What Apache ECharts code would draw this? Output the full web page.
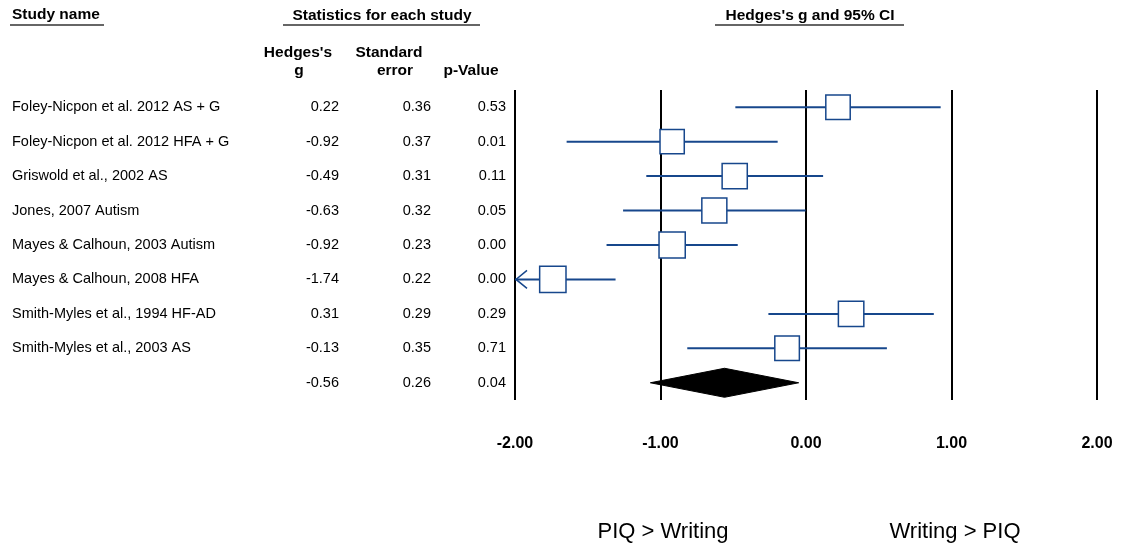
<!DOCTYPE html>
<html><head><meta charset="utf-8">
<script src="https://cdn.jsdelivr.net/npm/echarts@6/dist/echarts.min.js"></script>
<style>html,body{margin:0;padding:0;background:#fff}#c{width:1121px;height:548px}</style>
</head><body><div id="c"></div>
<script>
// ---- data ----
const studyNames = [
  'Foley-Nicpon et al. 2012 AS + G',
  'Foley-Nicpon et al. 2012 HFA + G',
  'Griswold et al., 2002 AS',
  'Jones, 2007 Autism',
  'Mayes & Calhoun, 2003 Autism',
  'Mayes & Calhoun, 2008 HFA',
  'Smith-Myles et al., 1994 HF-AD',
  'Smith-Myles et al., 2003 AS'
];
const hedgesG = [0.22, -0.92, -0.49, -0.63, -0.92, -1.74, 0.31, -0.13];
const stdErr  = [0.36, 0.37, 0.31, 0.32, 0.23, 0.22, 0.29, 0.35];
const pValues = [0.53, 0.01, 0.11, 0.05, 0.00, 0.00, 0.29, 0.71];
const summaryG = -0.56;
const summarySE = 0.26;
const summaryP = 0.04;
const xTicks = [-2, -1, 0, 1, 2];
const tau2 = 0.445; // between-study variance estimate (random-effects weights)

// ---- derived tables ----
const fmt = v => v.toFixed(2);
const rowNames = studyNames.concat(['']);
const rowG = hedgesG.map(fmt).concat([fmt(summaryG)]);
const rowSE = stdErr.map(fmt).concat([fmt(summarySE)]);
const rowP = pValues.map(fmt).concat([fmt(summaryP)]);
const rowIdx = rowNames.map((_, i) => i);

const forestData = hedgesG.map((g, i) => [g, i, g - 1.96 * stdErr[i], g + 1.96 * stdErr[i], stdErr[i], 0]);
forestData.push([summaryG, studyNames.length, summaryG - 1.96 * summarySE, summaryG + 1.96 * summarySE, summarySE, 1]);

const FONT = "'Liberation Sans', Arial, sans-serif";
const BLUE = '#17478c';
const TOP = 90, H = 310;

function colAxis(idx, data, align) {
  return {
    type: 'category', gridIndex: idx, data: data, inverse: true,
    axisLine: {show: false}, axisTick: {show: false}, splitLine: {show: false},
    axisLabel: {interval: 0, align: align, margin: 0, fontSize: 14.5, color: '#000', fontFamily: FONT}
  };
}

const chart = echarts.init(document.getElementById('c'), null, {renderer: 'canvas'});
const option = {
  backgroundColor: '#fff',
  animation: false,
  grid: [
    {left: 515, right: 24, top: TOP, height: H},
    {left: 12, width: 1, top: TOP, height: H},
    {left: 339, width: 1, top: TOP, height: H},
    {left: 431, width: 1, top: TOP, height: H},
    {left: 506, width: 1, top: TOP, height: H}
  ],
  xAxis: [
    {
      type: 'value', gridIndex: 0, min: xTicks[0], max: xTicks[xTicks.length - 1], interval: 1,
      axisLine: {show: false}, axisTick: {show: false},
      splitLine: {show: true, lineStyle: {color: '#000', width: 2}},
      axisLabel: {formatter: v => fmt(v), fontSize: 16, fontWeight: 'bold', color: '#000', fontFamily: FONT, margin: 36}
    },
    {type: 'value', gridIndex: 1, show: false},
    {type: 'value', gridIndex: 2, show: false},
    {type: 'value', gridIndex: 3, show: false},
    {type: 'value', gridIndex: 4, show: false}
  ],
  yAxis: [
    {type: 'category', gridIndex: 0, data: rowIdx, inverse: true, show: false},
    colAxis(1, rowNames, 'left'),
    colAxis(2, rowG, 'right'),
    colAxis(3, rowSE, 'right'),
    colAxis(4, rowP, 'right')
  ],
  series: [{
    type: 'custom',
    xAxisIndex: 0, yAxisIndex: 0,
    clip: false,
    encode: {x: [0, 2, 3], y: 1},
    data: forestData,
    renderItem: function (params, api) {
      const g = api.value(0), i = api.value(1), lo = api.value(2), hi = api.value(3), se = api.value(4), isSum = api.value(5);
      const xmin = xTicks[0], xmax = xTicks[xTicks.length - 1];
      const c = api.coord([g, i]);
      const y = c[1];
      const pLo = api.coord([Math.max(lo, xmin), i]);
      const pHi = api.coord([Math.min(hi, xmax), i]);
      const children = [];
      if (isSum) {
        const hh = 14.5;
        children.push({
          type: 'polygon',
          shape: {points: [[pLo[0], y], [c[0], y - hh], [pHi[0], y], [c[0], y + hh]]},
          style: {fill: '#000', stroke: '#000', lineWidth: 1}
        });
      } else {
        children.push({type: 'line', shape: {x1: pLo[0], y1: y, x2: pHi[0], y2: y}, style: {stroke: BLUE, lineWidth: 2}});
        if (lo < xmin) {
          children.push({type: 'polyline', shape: {points: [[pLo[0] + 12, y - 9], [pLo[0] + 1, y], [pLo[0] + 12, y + 9]]},
            style: {stroke: BLUE, lineWidth: 1.5, fill: null}});
        }
        const w = 1 / (se * se + tau2);
        const s = 18.5 * Math.sqrt(w);
        children.push({type: 'rect', shape: {x: c[0] - s / 2, y: y - s / 2, width: s, height: s},
          style: {fill: '#fff', stroke: BLUE, lineWidth: 1.5}});
      }
      return {type: 'group', children: children};
    }
  }],
  graphic: [
    {type: 'text', left: 12, top: 7, style: {text: 'Study name', font: "bold 15.5px " + FONT, fill: '#000'}},
    {type: 'line', shape: {x1: 10, y1: 25, x2: 104, y2: 25}, style: {stroke: '#333', lineWidth: 1.5}},
    {type: 'text', x: 382, y: 16, style: {text: 'Statistics for each study', font: "bold 15.5px " + FONT, fill: '#000', textAlign: 'center', textVerticalAlign: 'middle'}},
    {type: 'line', shape: {x1: 283, y1: 25, x2: 480, y2: 25}, style: {stroke: '#333', lineWidth: 1.5}},
    {type: 'text', x: 810, y: 16, style: {text: "Hedges's g and 95% CI", font: "bold 15.5px " + FONT, fill: '#000', textAlign: 'center', textVerticalAlign: 'middle'}},
    {type: 'line', shape: {x1: 715, y1: 25, x2: 904, y2: 25}, style: {stroke: '#333', lineWidth: 1.5}},
    {type: 'text', x: 298, y: 53, style: {text: "Hedges's", font: "bold 15.5px " + FONT, fill: '#000', textAlign: 'center', textVerticalAlign: 'middle'}},
    {type: 'text', x: 299, y: 71, style: {text: 'g', font: "bold 15.5px " + FONT, fill: '#000', textAlign: 'center', textVerticalAlign: 'middle'}},
    {type: 'text', x: 389, y: 53, style: {text: 'Standard', font: "bold 15.5px " + FONT, fill: '#000', textAlign: 'center', textVerticalAlign: 'middle'}},
    {type: 'text', x: 395, y: 71, style: {text: 'error', font: "bold 15.5px " + FONT, fill: '#000', textAlign: 'center', textVerticalAlign: 'middle'}},
    {type: 'text', x: 471, y: 71, style: {text: 'p-Value', font: "bold 15.5px " + FONT, fill: '#000', textAlign: 'center', textVerticalAlign: 'middle'}},
    {type: 'text', x: 663, y: 532, style: {text: 'PIQ > Writing', font: "22px " + FONT, fill: '#000', textAlign: 'center', textVerticalAlign: 'middle'}},
    {type: 'text', x: 955, y: 532, style: {text: 'Writing > PIQ', font: "22px " + FONT, fill: '#000', textAlign: 'center', textVerticalAlign: 'middle'}}
  ]
};
chart.setOption(option);
</script>
</body></html>
